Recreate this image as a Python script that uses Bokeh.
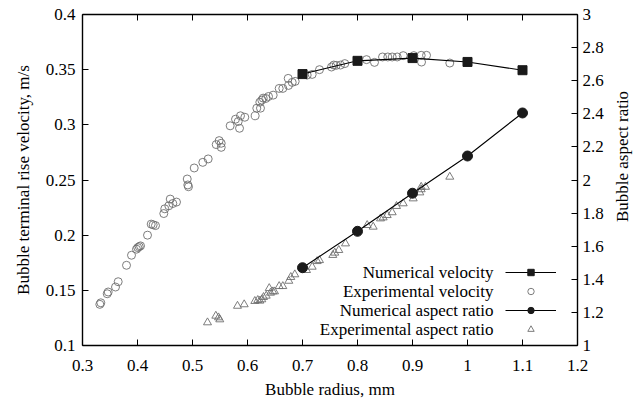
import math
from bokeh.plotting import figure
from bokeh.models import (Range1d, LinearAxis, FixedTicker, Legend, LegendItem, Label)
from bokeh.embed import file_html
from bokeh.resources import INLINE

# ---- data ----
num_x = [0.7, 0.8, 0.9, 1.0, 1.1]
num_vel = [0.346, 0.358, 0.3605, 0.357, 0.3495]
num_ar = [1.47, 1.69, 1.92, 2.145, 2.405]

exp_vel_x = [0.3315, 0.3333, 0.3449, 0.3467, 0.360, 0.3649, 0.380, 0.3891, 0.3982, 0.4005,
             0.4031, 0.4055, 0.4182, 0.4249, 0.4285, 0.4327, 0.4478, 0.4496, 0.4569, 0.4595,
             0.4642, 0.4709, 0.4904, 0.4915, 0.4927, 0.5031, 0.5187, 0.5285, 0.5431, 0.5485,
             0.5522, 0.5522, 0.5685, 0.5782, 0.5831, 0.5855, 0.5873, 0.5951, 0.614, 0.6169,
             0.6236, 0.6224, 0.626, 0.6285, 0.6333, 0.6382, 0.6467, 0.6576, 0.6642, 0.674,
             0.6745, 0.6813, 0.6867, 0.7085, 0.7176, 0.7309, 0.7527, 0.7569, 0.7613, 0.7691,
             0.7769, 0.8164, 0.8309, 0.8455, 0.8551, 0.8631, 0.8722, 0.8831, 0.9024, 0.9158,
             0.9255, 0.9164, 0.9678]
exp_vel_y = [0.1373, 0.1387, 0.1469, 0.1485, 0.153, 0.1578, 0.1727, 0.1818, 0.1873, 0.1887,
             0.1896, 0.1903, 0.200, 0.210, 0.2094, 0.2087, 0.2196, 0.2239, 0.2266, 0.2327,
             0.2287, 0.230, 0.2509, 0.2455, 0.2439, 0.2609, 0.266, 0.2691, 0.2821, 0.2857,
             0.2833, 0.2796, 0.2991, 0.3051, 0.303, 0.2969, 0.3082, 0.3069, 0.3082, 0.3151,
             0.3151, 0.3205, 0.3224, 0.3242, 0.3239, 0.3257, 0.3269, 0.333, 0.333, 0.3421,
             0.3357, 0.3385, 0.3394, 0.3451, 0.3457, 0.350, 0.3524, 0.3542, 0.3539, 0.3542,
             0.3555, 0.3591, 0.3566, 0.3615, 0.3615, 0.3615, 0.3615, 0.3627, 0.3627, 0.363,
             0.363, 0.3569, 0.356]

exp_ar_x = [0.5273, 0.5424, 0.5473, 0.5496, 0.5818, 0.594, 0.6133, 0.6187, 0.6224, 0.626,
            0.6291, 0.634, 0.6395, 0.6418, 0.646, 0.6491, 0.6576, 0.6642, 0.6751, 0.6787,
            0.686, 0.7073, 0.7176, 0.7267, 0.7309, 0.7551, 0.7587, 0.766, 0.7782, 0.8176,
            0.8285, 0.8418, 0.8467, 0.854, 0.8631, 0.8709, 0.8831, 0.9013, 0.9005, 0.9133,
            0.9158, 0.9158, 0.9236, 0.9678]
exp_ar_y = [1.139, 1.179, 1.169, 1.157, 1.239, 1.248, 1.268, 1.274, 1.270, 1.278,
            1.292, 1.300, 1.346, 1.318, 1.326, 1.326, 1.358, 1.358, 1.390, 1.413,
            1.429, 1.455, 1.475, 1.509, 1.515, 1.546, 1.560, 1.576, 1.616, 1.727,
            1.717, 1.767, 1.773, 1.787, 1.804, 1.842, 1.858, 1.888, 1.918, 1.924,
            1.943, 1.958, 1.958, 2.019]

x_ticks = [0.3, 0.4, 0.5, 0.6, 0.7, 0.8, 0.9, 1.0, 1.1, 1.2]
x_labels = ["0.3", "0.4", "0.5", "0.6", "0.7", "0.8", "0.9", "1", "1.1", "1.2"]
yl_ticks = [0.1, 0.15, 0.2, 0.25, 0.3, 0.35, 0.4]
yl_labels = ["0.1", "0.15", "0.2", "0.25", "0.3", "0.35", "0.4"]
yr_ticks = [1.0, 1.2, 1.4, 1.6, 1.8, 2.0, 2.2, 2.4, 2.6, 2.8, 3.0]
yr_labels = ["1", "1.2", "1.4", "1.6", "1.8", "2", "2.2", "2.4", "2.6", "2.8", "3"]

legend_labels = ["Numerical velocity", "Experimental velocity",
                 "Numerical aspect ratio", "Experimental aspect ratio"]
right_title = "Bubble aspect ratio"

FONT = "Liberation Serif"
FS = "17px"

p = figure(width=635, height=403, output_backend="svg", toolbar_location=None,
           x_range=Range1d(0.3, 1.2), y_range=Range1d(0.1, 0.4),
           min_border_left=82, min_border_right=58, min_border_top=14, min_border_bottom=58)
p.extra_y_ranges = {"ar": Range1d(1.0, 3.0)}
p.xgrid.visible = False
p.ygrid.visible = False
p.outline_line_color = None
p.background_fill_color = "white"
p.border_fill_color = "white"


def style_axis(ax, ticks, labels):
    ax.ticker = FixedTicker(ticks=ticks)
    ax.major_label_overrides = {t: l for t, l in zip(ticks, labels)}
    ax.minor_tick_line_color = None
    ax.major_tick_in = 6
    ax.major_tick_out = 0
    ax.axis_line_color = "black"
    ax.axis_line_width = 1.4
    ax.major_tick_line_color = "black"
    ax.major_tick_line_width = 1
    ax.major_label_text_font = FONT
    ax.major_label_text_font_size = FS
    ax.major_label_text_color = "black"
    ax.axis_label_text_font = FONT
    ax.axis_label_text_font_size = FS
    ax.axis_label_text_font_style = "normal"
    ax.axis_label_text_color = "black"


bx = p.xaxis[0]
style_axis(bx, x_ticks, x_labels)
bx.axis_label = "Bubble radius, mm"
bx.major_label_standoff = 14
bx.axis_label_standoff = 6

ly = p.yaxis[0]
style_axis(ly, yl_ticks, yl_labels)
ly.axis_label = "Bubble terminal rise velocity, m/s"
ly.major_label_standoff = 7
ly.axis_label_standoff = 10

top = LinearAxis()
style_axis(top, x_ticks, [""] * len(x_ticks))
top.major_label_standoff = 0
p.add_layout(top, "above")

ry = LinearAxis(y_range_name="ar")
style_axis(ry, yr_ticks, yr_labels)
ry.major_label_standoff = 5
p.add_layout(ry, "right")

# ---- glyphs ----
gray = "#6e6e6e"
ev = p.scatter(exp_vel_x, exp_vel_y, marker="circle", size=8, fill_color=None,
               line_color=gray, line_width=0.9)
ea = p.scatter(exp_ar_x, exp_ar_y, marker="triangle", size=8, fill_color=None,
               line_color=gray, line_width=0.9, y_range_name="ar")
nvl = p.line(num_x, num_vel, line_color="black", line_width=1.1)
nvs = p.scatter(num_x, num_vel, marker="square", size=9, fill_color="#1a1a1a",
                line_color="#1a1a1a")
nal = p.line(num_x, num_ar, line_color="black", line_width=1.1, y_range_name="ar")
nas = p.scatter(num_x, num_ar, marker="circle", size=10, fill_color="#1a1a1a",
                line_color="#1a1a1a", y_range_name="ar")

# ---- legend: glyph column (right) + right-aligned text ----
items = [LegendItem(label="", renderers=[nvl, nvs]),
         LegendItem(label="", renderers=[ev]),
         LegendItem(label="", renderers=[nal, nas]),
         LegendItem(label="", renderers=[ea])]
leg = Legend(items=items, location=(423, 8), orientation="vertical",
             glyph_width=51, glyph_height=16, label_height=16, spacing=3,
             padding=0, margin=0, label_standoff=0, label_width=0,
             label_text_font=FONT, label_text_font_size=FS,
             border_line_color=None, background_fill_alpha=0)
p.add_layout(leg, "center")

row_y = [73, 54, 35, 16]
for txt, yy in zip(legend_labels, row_y):
    p.add_layout(Label(x=411, y=yy, x_units="screen", y_units="screen", text=txt,
                       text_align="right", text_baseline="middle",
                       text_font=FONT, text_font_size=FS, text_color="black"))

# right axis title, reading bottom-to-top like the reference (placed in the right panel)
p.add_layout(Label(x=16, y=189, x_units="screen", y_units="screen", text=right_title,
                   angle=math.pi / 2, text_align="center", text_baseline="middle",
                   text_font=FONT, text_font_size=FS, text_color="black"), "right")

open("out.html", "w").write(file_html(p, INLINE))
